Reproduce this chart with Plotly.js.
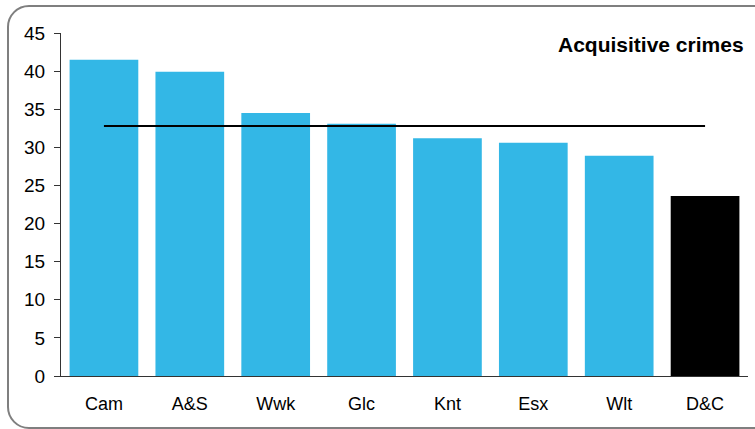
<!DOCTYPE html>
<html><head><meta charset="utf-8">
<script src="https://cdn.plot.ly/plotly-3.0.1.min.js"></script>
<style>
html,body{margin:0;padding:0;background:#fff;overflow:hidden;}
#wrap{position:relative;width:755px;height:429px;}
#chart{position:absolute;left:0;top:0;width:755px;height:429px;}
#frame{position:absolute;left:7px;top:5px;width:770px;height:420px;border:2px solid #7f7f7f;border-radius:22px;pointer-events:none;}
</style></head>
<body><div id="wrap"><div id="chart"></div><div id="frame"></div></div>
<script>
const categories = ["Cam","A&S","Wwk","Glc","Knt","Esx","Wlt","D&C"];
const values = [41.5, 39.9, 34.5, 33.1, 31.2, 30.6, 28.9, 23.6];
const barColors = ["#33b7e6","#33b7e6","#33b7e6","#33b7e6","#33b7e6","#33b7e6","#33b7e6","#000000"];
const averageLine = [32.8, 32.8, 32.8, 32.8, 32.8, 32.8, 32.8, 32.8];
const yTicks = [0,5,10,15,20,25,30,35,40,45];

const traces = [
  {type:"bar", x:categories, y:values, marker:{color:barColors}, hoverinfo:"skip"},
  {type:"scatter", mode:"lines", x:categories, y:averageLine, line:{color:"#000", width:2}, hoverinfo:"skip"}
];
const layout = {
  width:755, height:429,
  margin:{l:61, r:7, t:33, b:53},
  paper_bgcolor:"#fff", plot_bgcolor:"#fff",
  showlegend:false, bargap:0.2,
  font:{family:"Liberation Sans, Arial, sans-serif", color:"#000"},
  xaxis:{type:"category", showline:true, linecolor:"#333", linewidth:1, ticks:"", showgrid:false, zeroline:false,
         tickfont:{size:18}, ticklabelstandoff:11, fixedrange:true},
  yaxis:{range:[0,45], tickvals:yTicks, showline:true, linecolor:"#333", linewidth:1, ticks:"outside", ticklen:6,
         tickcolor:"#333", showgrid:false, zeroline:false, tickfont:{size:19}, ticklabelstandoff:5, fixedrange:true},
  annotations:[{text:"<b>Acquisitive crimes</b>", xref:"paper", yref:"paper", x:1, y:1, xanchor:"right", yanchor:"middle",
    yshift:-11, xshift:-2, showarrow:false, font:{size:21, color:"#000"}}]
};
Plotly.newPlot("chart", traces, layout, {displayModeBar:false, staticPlot:true});
</script></body></html>
